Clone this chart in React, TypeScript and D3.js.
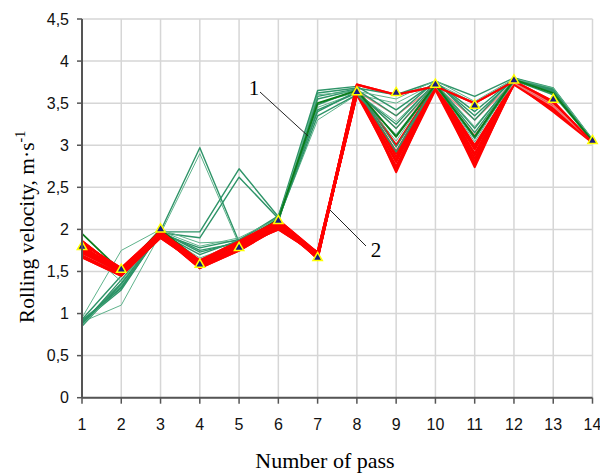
import React from 'react';
import * as d3 from 'd3';

// Passes 1..14
const passes = [1, 2, 3, 4, 5, 6, 7, 8, 9, 10, 11, 12, 13, 14];
const yTicks = [0, 0.5, 1, 1.5, 2, 2.5, 3, 3.5, 4, 4.5];

// Group 1 (green) — rolling velocity per pass
const greenDark = [1.95, 1.5, 2.0, 1.62, 1.82, 2.12, 3.5, 3.65, 3.1, 3.72, 3.1, 3.78, 3.62, 3.05];
const greenSeries = [
  [0.88, 1.32, 1.98, 2.97, 1.85, 2.1, 3.62, 3.68, 3.6, 3.76, 3.58, 3.8, 3.68, 3.07],
  [0.9, 1.1, 1.95, 2.9, 1.82, 2.12, 3.3, 3.6, 3.5, 3.74, 3.5, 3.78, 3.66, 3.06],
  [0.85, 1.35, 1.97, 1.97, 2.72, 2.15, 3.65, 3.7, 3.42, 3.75, 3.4, 3.79, 3.67, 3.05],
  [0.92, 1.3, 1.96, 1.9, 2.62, 2.13, 3.55, 3.66, 3.35, 3.76, 3.3, 3.8, 3.65, 3.06],
  [0.95, 1.75, 2.0, 1.84, 1.86, 2.1, 3.45, 3.62, 3.28, 3.74, 3.22, 3.77, 3.64, 3.05],
  [0.87, 1.4, 1.95, 1.78, 1.88, 2.14, 3.4, 3.64, 3.2, 3.73, 3.15, 3.78, 3.63, 3.06],
  [0.9, 1.28, 1.97, 1.73, 1.85, 2.12, 3.35, 3.6, 3.12, 3.72, 3.08, 3.77, 3.6, 3.05],
  [0.86, 1.33, 1.96, 1.66, 1.83, 2.11, 3.5, 3.63, 3.05, 3.74, 3.04, 3.79, 3.62, 3.04],
  [0.93, 1.45, 1.99, 1.6, 1.8, 2.09, 3.58, 3.67, 2.98, 3.71, 3.1, 3.76, 3.66, 3.05],
  [0.89, 1.36, 1.95, 1.7, 1.87, 2.16, 3.48, 3.66, 2.92, 3.73, 3.2, 3.78, 3.65, 3.06],
  [1.8, 1.38, 1.98, 1.8, 1.9, 2.13, 3.6, 3.64, 3.55, 3.77, 3.52, 3.79, 3.68, 3.07],
  [0.91, 1.31, 1.97, 1.75, 1.84, 2.12, 3.42, 3.62, 3.25, 3.75, 3.35, 3.78, 3.64, 3.05],
];

// Group 2 (red)
const redSeries = [
  [1.86, 1.5, 1.98, 1.58, 1.78, 2.08, 1.68, 3.72, 3.6, 3.7, 3.5, 3.76, 3.52, 3.03],
  [1.81, 1.47, 1.95, 1.55, 1.8, 2.11, 1.72, 3.68, 3.0, 3.72, 3.0, 3.74, 3.5, 3.03],
  [1.78, 1.53, 1.96, 1.61, 1.83, 2.05, 1.66, 3.65, 2.92, 3.7, 2.95, 3.75, 3.48, 3.04],
  [1.75, 1.49, 1.92, 1.57, 1.76, 2.04, 1.69, 3.66, 2.86, 3.68, 2.9, 3.73, 3.45, 3.03],
  [1.72, 1.5, 1.93, 1.54, 1.75, 2.02, 1.73, 3.62, 2.8, 3.69, 2.84, 3.72, 3.42, 3.04],
  [1.69, 1.46, 1.9, 1.58, 1.8, 2.0, 1.7, 3.6, 2.75, 3.67, 2.8, 3.74, 3.4, 3.03],
  [1.67, 1.45, 1.91, 1.6, 1.85, 2.06, 1.68, 3.63, 2.71, 3.66, 2.77, 3.73, 3.44, 3.03],
  [1.83, 1.54, 1.97, 1.63, 1.86, 2.1, 1.65, 3.7, 2.68, 3.71, 2.74, 3.76, 3.47, 3.04],
  [1.77, 1.51, 1.94, 1.59, 1.79, 2.07, 1.67, 3.64, 2.9, 3.7, 2.97, 3.75, 3.5, 3.03],
  [1.73, 1.48, 1.92, 1.57, 1.81, 2.03, 1.71, 3.61, 2.82, 3.72, 2.88, 3.74, 3.46, 3.04],
];
const pinkSeries = [
  [1.7, 1.49, 1.93, 1.6, 1.8, 2.03, 1.7, 3.63, 3.2, 3.7, 3.12, 3.74, 3.46, 3.04],
  [1.74, 1.5, 1.94, 1.58, 1.79, 2.05, 1.69, 3.64, 3.35, 3.71, 3.3, 3.75, 3.48, 3.03],
];

// marked reference series (triangles)
const markerSeries = [1.78, 1.51, 1.99, 1.57, 1.77, 2.09, 1.65, 3.62, 3.61, 3.71, 3.46, 3.76, 3.53, 3.04];

const W = 600;
const H = 476;
const x = d3.scaleLinear().domain([1, 14]).range([82, 592.5]);
const y = d3.scaleLinear().domain([0, 4.5]).range([397.7, 19]);

const line = d3.line<number>()
  .x((_, i) => x(passes[i]))
  .y(d => y(d));

const tri = d3.symbol().type(d3.symbolTriangle).size(38)();

export default function App() {
  const axisColor = '#555';
  const gridColor = '#d6d6d6';
  const tickFont = '"Liberation Sans", Arial, sans-serif';
  const serif = '"Liberation Serif", "Times New Roman", serif';

  return (
    <svg width={W} height={H} style={{ position: 'absolute', left: 0, top: 0, background: '#fff' }}>
      {/* grid */}
      {yTicks.map(t => (
        <line key={'gy' + t} x1={x(1)} x2={x(14)} y1={y(t)} y2={y(t)} stroke={gridColor} strokeWidth={1.5} />
      ))}
      {passes.map(p => (
        <line key={'gx' + p} x1={x(p)} x2={x(p)} y1={y(0)} y2={y(4.5)} stroke={gridColor} strokeWidth={1.5} />
      ))}

      {/* red group (underneath) */}
      <g fill="none" strokeLinejoin="round">
        {redSeries.map((s, i) => (
          <path key={'r' + i} d={line(s) || ''} stroke="#ff0000" strokeWidth={2.2} />
        ))}
        {pinkSeries.map((s, i) => (
          <path key={'p' + i} d={line(s) || ''} stroke="#f08080" strokeWidth={1.2} />
        ))}
      </g>

      {/* green group */}
      <g fill="none" strokeLinejoin="round">
        {greenSeries.map((s, i) => (
          <path key={'g' + i} d={line(s) || ''} stroke={i % 3 === 1 ? '#5fb38c' : '#2e9468'}
            strokeWidth={i % 3 === 1 ? 1 : 1.4} />
        ))}
        <path d={line(greenDark) || ''} stroke="#0b7d1a" strokeWidth={1.8} />
      </g>

      {/* red band on top for passes 1-8 (red covers green there) */}
      <g fill="none" strokeLinejoin="round">
        {redSeries.map((s, i) => (
          <path key={'rt' + i} d={line(s.slice(0, 8)) || ''} stroke="#ff0000" strokeWidth={2.2} />
        ))}
        <path d={line(redSeries[0]) || ''} stroke="#ff0000" strokeWidth={2.2} />
      </g>

      {/* triangles */}
      {markerSeries.map((v, i) => (
        <path key={'m' + i} d={tri || ''} transform={`translate(${x(passes[i])},${y(v) - 1})`}
          fill="#1a1a80" stroke="#ffff00" strokeWidth={1.5} />
      ))}

      {/* axes */}
      <line x1={x(1)} x2={x(1)} y1={y(0)} y2={y(4.5)} stroke={axisColor} strokeWidth={2} />
      <line x1={x(1)} x2={x(14)} y1={y(0)} y2={y(0)} stroke={axisColor} strokeWidth={2} />
      {yTicks.map(t => (
        <g key={'yt' + t}>
          <line x1={x(1) - 5} x2={x(1)} y1={y(t)} y2={y(t)} stroke={axisColor} strokeWidth={1.5} />
          <text x={69} y={y(t)} dy="0.36em" textAnchor="end" fontSize={16} fontFamily={tickFont} fill="#111">
            {String(t).replace('.', ',')}
          </text>
        </g>
      ))}
      {passes.map(p => (
        <g key={'xt' + p}>
          <line x1={x(p)} x2={x(p)} y1={y(0)} y2={y(0) + 6} stroke={axisColor} strokeWidth={1.5} />
          <text x={x(p)} y={430} textAnchor="middle" fontSize={16} fontFamily={tickFont} fill="#111">{p}</text>
        </g>
      ))}

      {/* titles */}
      <text x={325} y={468} textAnchor="middle" fontSize={22} fontFamily={serif} fill="#000">Number of pass</text>
      <text transform="translate(34,227) rotate(-90)" textAnchor="middle" fontSize={21.5} fontFamily={serif} fill="#000">
        Rolling velocity, m·s<tspan dy={-9} fontSize={14}>-1</tspan>
      </text>

      {/* annotations */}
      <line x1={260} y1={92} x2={308} y2={136} stroke="#222" strokeWidth={1} />
      <text x={254} y={95} textAnchor="middle" fontSize={21} fontFamily={serif}>1</text>
      <line x1={330} y1={210} x2={366} y2={246} stroke="#222" strokeWidth={1} />
      <text x={376} y={257} textAnchor="middle" fontSize={21} fontFamily={serif}>2</text>
    </svg>
  );
}
